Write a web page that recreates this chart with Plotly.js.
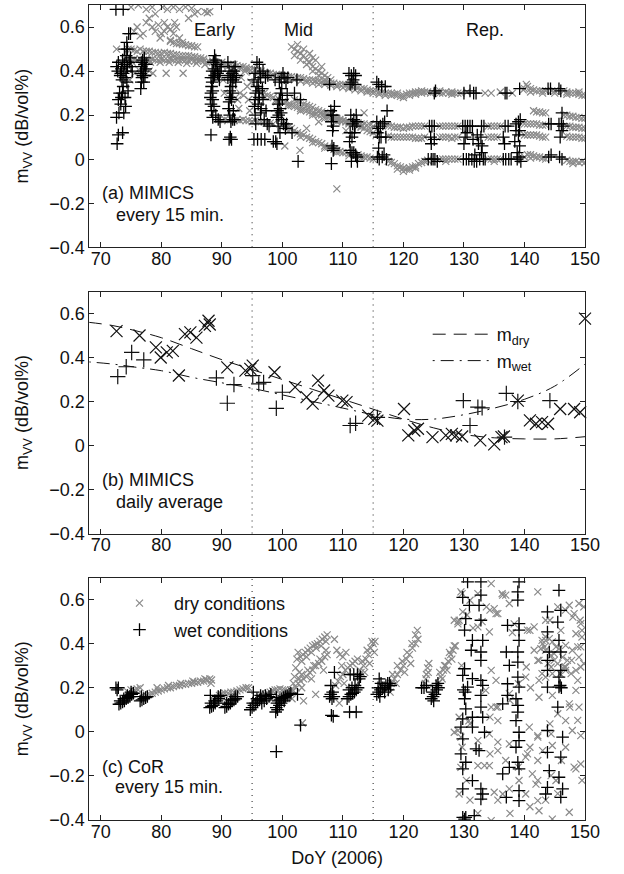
<!DOCTYPE html>
<html>
<head>
<meta charset="utf-8">
<script src="https://cdn.plot.ly/plotly-3.0.1.min.js"></script>
<style>html,body{margin:0;padding:0;background:#fff;}#chart{width:624px;height:874px;}</style>
</head>
<body>
<div id="chart"></div>
<script>
// ---------------- DATA ----------------
const doyTicks = [70, 80, 90, 100, 110, 120, 130, 140, 150];
const mTicks = [-0.4, -0.2, 0, 0.2, 0.4, 0.6];
const phaseBounds = [95, 115];
const phaseNames = ['Early', 'Mid', 'Rep.'];
const phaseLabelDoy = [88.8, 102.6, 133.4];

// Panel (a) MIMICS every 15 min, dry (grey x)
const aDryEarly = [[72.6,0.5],[73.4,0.44],[73.8,0.42],[74.2,0.46],[75.6,0.39],[78.6,0.39],[80.8,0.39],[83.6,0.39],
[74,0.45],[74.5,0.45],[75,0.45],[75.5,0.455],[76,0.45],[76.5,0.455],[77,0.45],[77.5,0.455],[78,0.45],[78.5,0.455],[79,0.45],[79.5,0.45],[80,0.455],[80.5,0.45],[81,0.45],[81.5,0.455],[82,0.45],[82.5,0.45],[83,0.45],[83.5,0.45],[84,0.45],[84.5,0.445],[85,0.45],[85.5,0.445],[86,0.445],[86.5,0.45],[87,0.445],[87.5,0.44],
[75.2,0.44],[76.8,0.44],[78.2,0.44],[79.8,0.44],[81.3,0.44],[82.8,0.44],[84.2,0.435],[85.8,0.435],[87.2,0.43],
[74.5,0.5],[75,0.5],[75.5,0.495],[76,0.49],[76.5,0.5],[77,0.49],[77.5,0.49],[78,0.49],[78.5,0.485],[79,0.485],[79.5,0.48],[80,0.48],[80.5,0.485],[81,0.48],[81.5,0.48],[82,0.475],[82.5,0.475],[83,0.47],[83.5,0.47],[84,0.47],[84.5,0.47],[85,0.465],[85.5,0.465],[86,0.46],[86.5,0.46],[87,0.455],
[81.5,0.535],[82,0.53],[82.5,0.525],[83,0.525],[83.5,0.52],[84,0.52],[84.5,0.515],[85,0.515],[85.5,0.51],[86,0.51],
[75.5,0.58],[76,0.6],[76.5,0.56],[77,0.57],[77.5,0.62],[78,0.64],[78.5,0.6],[79,0.58],[79.5,0.61],[80,0.57],[80.5,0.62],[81,0.6],[81.5,0.59],[82,0.57],[82.5,0.6],[83,0.55],[80.2,0.69],[81,0.68],[82,0.69],[83,0.68],[84,0.69],[85,0.685],[86,0.67],[79,0.66],[77.5,0.68],[78.5,0.69],[75,0.69],[76.2,0.7],[87.2,0.67],[87.6,0.665],[88,0.67],[84.5,0.64],[85.5,0.66],[79.8,0.55],[81.5,0.54],[83.5,0.53],[80.5,0.58],[82.2,0.62],
[76.5,0.4],[77.5,0.42],[78,0.4],[74.8,0.36]];
const aDryMid = [[88,0.44],[88.5,0.445],[89,0.44],[89.5,0.435],[90,0.44],[90.5,0.43],[91,0.43],[91.5,0.43],[92,0.43],[92.5,0.425],[93,0.42],[93.5,0.42],[94,0.415],[94.5,0.41],[95,0.41],[95.5,0.405],[96,0.4],[96.5,0.4],[97,0.395],[97.5,0.39],[98,0.39],[98.5,0.385],[99,0.385],[99.5,0.38],[100,0.38],[100.5,0.38],[101,0.375],[101.5,0.375],[102,0.37],[102.5,0.37],[103,0.37],[103.5,0.365],[104,0.36],[104.5,0.36],[105,0.36],[105.5,0.355],[106,0.355],[106.5,0.35],[107,0.35],[107.5,0.35],[108,0.345],[108.5,0.345],[109,0.34],[109.5,0.34],[110,0.34],[110.5,0.335],[111,0.33],[111.5,0.33],[112,0.33],[112.5,0.325],[113,0.32],[113.5,0.32],[114,0.315],[114.5,0.31],[115,0.31],[115.5,0.31],[116,0.305],[116.5,0.305],[117,0.3],[117.5,0.3],[118,0.3],
[89,0.43],[90,0.425],[91,0.42],[92,0.415],[93,0.41],[94,0.405],[95,0.395],[96,0.39],[97,0.385],[98,0.375],[99,0.37],[100,0.37],[101,0.365],[102,0.36],[103,0.355],[104,0.35],[105,0.345],[106,0.34],[107,0.34],[108,0.335],[109,0.33],[110,0.325],[111,0.32],[112,0.315],[113,0.31],[114,0.305],[115,0.3],[116,0.295],[117,0.29],[118,0.29],
[101.5,0.51],[102,0.5],[102.5,0.49],[103,0.48],[103.5,0.47],[104,0.45],[104.5,0.44],[105,0.42],[105.5,0.41],[106,0.4],[106.5,0.39],[107,0.38],[107.5,0.37],[108,0.36],[102,0.47],[103,0.45],[104,0.43],[105,0.4],[106,0.38],[107,0.36],[103.5,0.5],[104.5,0.48],[105.5,0.45],[102.5,0.52],[106.5,0.42],[105,0.46],
[96,0.31],[96.5,0.3],[97,0.3],[97.5,0.29],[98,0.285],[98.5,0.28],[99,0.27],[99.5,0.27],[100,0.26],[100.5,0.26],[101,0.25],[101.5,0.245],[102,0.24],[102.5,0.235],[103,0.23],[103.5,0.225],[104,0.22],[104.5,0.215],[105,0.21],[105.5,0.205],[106,0.2],[106.5,0.2],[107,0.195],[107.5,0.19],[108,0.185],[108.5,0.185],[109,0.18],[109.5,0.175],[110,0.175],[110.5,0.17],[111,0.17],[112,0.165],[112.5,0.165],[113,0.16],[113.5,0.16],[114,0.155],[114.5,0.155],[115,0.15],
[97,0.285],[99,0.26],[101,0.24],[103,0.22],[105,0.2],[107,0.185],[109,0.17],[111,0.16],[113,0.15],
[102,0.27],[102.5,0.265],[103,0.26],[103.5,0.25],[104,0.245],[104.5,0.24],[105,0.235],[105.5,0.225],[106,0.22],[106.5,0.215],[107,0.21],[107.5,0.205],[108,0.2],[108.5,0.19],[109,0.185],[109.5,0.18],[110,0.175],[110.5,0.17],[111,0.165],[112.5,0.15],[113,0.145],[113.5,0.14],[114,0.13],[114.5,0.125],[115,0.12],
[100,0.16],[100.5,0.15],[101,0.145],[101.5,0.14],[102,0.13],[102.5,0.12],[103,0.115],[103.5,0.11],[104,0.1],[104.5,0.095],[105,0.09],[105.5,0.08],[106,0.075],[106.5,0.07],[107,0.06],[107.5,0.055],[108,0.05],[108.5,0.045],[109,0.04],[109.5,0.035],[110,0.03],[110.5,0.03],[111,0.025],[112.5,0.02],[113,0.015],[113.5,0.01],[114,0.01],[114.5,0.005],[115,0.0],
[101,0.13],[103,0.1],[105,0.075],[107,0.05],[109,0.03],[111,0.015],[113,0.005],
[89.5,0.18],[90,0.175],[90.5,0.18],[91,0.175],[91.5,0.18],[92,0.175],[92.5,0.18],[93,0.175],[93.5,0.18],[94,0.175],[94.5,0.175],[95,0.17],[95.5,0.175],[96,0.17],[96.5,0.17],[97,0.17],[97.5,0.165],[98,0.165],[98.5,0.16],
[90.4,0.3],[92.6,0.27],[93,0.3],[93.6,0.29],[94.2,0.33],[94.8,0.35],[94.4,0.27],[93.2,0.37],[92.8,0.23],[94.6,0.22],[90.2,0.36],[93.8,0.4],
[109,-0.135],[106,0.17],[104,0.14],[110.5,0.13],[113.5,0.21],[102.9,0.04],[100.4,0.06]];
const aDryLate = [[118.5,0.295],[119,0.29],[119.5,0.285],[120,0.29],[120.5,0.295],[121,0.3],[121.5,0.3],[122,0.305],[122.5,0.305],[123,0.3],[123.5,0.305],[124,0.305],[124.5,0.3],[125.5,0.305],[126,0.3],[126.5,0.3],[127,0.305],[127.5,0.3],[128,0.305],[128.5,0.3],[129,0.3],[129.5,0.3],[130.5,0.305],[133.5,0.3],[134.5,0.3],[136,0.305],[138,0.3],[140,0.32],[140.5,0.33],[141,0.32],[141.5,0.315],[142,0.31],[142.5,0.31],[143,0.31],[143.5,0.31],[144.5,0.31],[145,0.31],[146.5,0.31],[147,0.305],[147.5,0.3],[148,0.3],[148.5,0.3],[149,0.295],[149.5,0.29],[150,0.29],
[119,0.3],[120,0.28],[121,0.29],[122,0.295],[123,0.31],[126,0.31],[128,0.295],[141,0.305],[143,0.3],[145,0.3],[147,0.295],[149,0.305],[140.3,0.34],[139.8,0.315],
[141.5,0.22],[142,0.215],[142.5,0.215],[143,0.21],[143.5,0.21],[146.5,0.2],[147,0.2],[147.5,0.195],[148,0.195],[148.5,0.19],[149,0.19],[149.5,0.185],[150,0.185],
[117.5,0.15],[118,0.15],[118.5,0.145],[119,0.145],[119.5,0.145],[120,0.14],[120.5,0.145],[121,0.145],[121.5,0.15],[122,0.15],[122.5,0.15],[123,0.15],[123.5,0.15],[126,0.15],[126.5,0.15],[127,0.15],[127.5,0.15],[128,0.15],[128.5,0.15],[129,0.15],[134,0.15],[134.5,0.15],[135,0.15],[135.5,0.15],[136,0.15],[140,0.16],[140.5,0.16],[141,0.16],[141.5,0.16],[142,0.16],[142.5,0.155],[143,0.155],[143.5,0.155],[147,0.15],[147.5,0.15],[148,0.145],[148.5,0.145],[149,0.145],[149.5,0.14],[150,0.14],
[117.5,0.105],[118,0.1],[118.5,0.1],[119,0.1],[119.5,0.1],[120,0.1],[120.5,0.1],[121,0.1],[121.5,0.1],[122,0.095],[122.5,0.095],[123,0.095],[123.5,0.1],[126,0.1],[126.5,0.1],[127,0.1],[127.5,0.1],[128,0.095],[128.5,0.1],[129,0.1],[134,0.1],[134.5,0.1],[135,0.1],[135.5,0.1],[140,0.11],[140.5,0.11],[141,0.11],[141.5,0.11],[142,0.11],[142.5,0.105],[143,0.1],[143.5,0.1],[147,0.105],[147.5,0.1],[148,0.1],[148.5,0.1],[149,0.1],[149.5,0.095],[150,0.095],
[117.5,-0.01],[118,-0.015],[118.5,-0.02],[119,-0.03],[119.5,-0.035],[120,-0.04],[120.5,-0.045],[121,-0.04],[121.5,-0.035],[122,-0.03],[122.5,-0.02],[123,-0.015],[123.5,-0.01],[124,-0.005],[126,0.0],[126.5,0],[127,0],[127.5,0],[128,0],[128.5,0],[129,0],[134,0],[134.5,0],[135,0],[135.5,0],[136,0],[140,0.01],[140.5,0.02],[141,0.02],[141.5,0.015],[142,0.01],[142.5,0.01],[143,0.005],[143.5,0],[147,-0.005],[147.5,-0.01],[148,-0.01],[148.5,-0.01],[149,-0.015],[149.5,-0.01],[150,-0.015],
[119,-0.045],[120,-0.055],[121,-0.05],[122,-0.04],[127,-0.01],[135,-0.01],[141,0.005],[148,-0.02]];

// Panel (a) wet (black +)
const aWet = [[72.5,0.68],[73.7,0.68],[72.7,0.07],[72.9,0.11],[73.6,0.12],[72.6,0.19],[73.0,0.21],[73.3,0.25],[72.9,0.27],[73.4,0.28],[73.1,0.3],[73.6,0.3],[73.7,0.33],[73.5,0.36],[73.2,0.38],[72.8,0.4],[73.4,0.41],[73.9,0.43],[72.6,0.42],[72.9,0.44],[73.3,0.39],[73.7,0.39],[74.0,0.37],[74.3,0.35],[74.5,0.31],[74.0,0.28],[74.2,0.4],[74.4,0.42],[74.7,0.44],[74.9,0.46],[74.2,0.47],[73.9,0.5],[74.4,0.5],[74.6,0.57],[74.9,0.57],[74.3,0.53],[75.0,0.42],[75.2,0.4],[73.6,0.45],[74.1,0.24],[73.8,0.21],
[76.6,0.32],[76.7,0.35],[76.8,0.37],[77.0,0.4],[77.2,0.43],[76.7,0.42],[77.4,0.41],[77.1,0.35],[76.9,0.45],[77.3,0.38],[76.6,0.39],[77.2,0.46],[76.8,0.44],[77.5,0.43],[77.0,0.38],
[88.2,0.11],[88.5,0.19],[88.3,0.22],[88.2,0.25],[88.1,0.28],[88.2,0.3],[88.3,0.33],[88.4,0.35],[88.6,0.37],[88.8,0.38],[89.0,0.4],[88.7,0.41],[89.2,0.43],[89.0,0.45],[88.8,0.47],[89.3,0.39],[89.5,0.38],[89.7,0.4],[89.4,0.18],[89.7,0.17],[89.0,0.2],[88.7,0.24],[88.5,0.27],[88.5,0.31],[88.2,0.37],[88.4,0.4],[88.6,0.44],[89.6,0.36],[89.9,0.42],
[91.2,0.09],[91.6,0.09],[91.4,0.1],[91.5,0.17],[91.8,0.18],[92.1,0.18],[91.3,0.2],[91.1,0.23],[91.2,0.26],[91.4,0.28],[91.6,0.27],[91.3,0.31],[91.5,0.33],[91.8,0.36],[91.5,0.38],[92.0,0.4],[92.2,0.42],[92.0,0.37],[91.0,0.44],[91.2,0.4],[91.7,0.39],[92.4,0.38],[92.3,0.35],[91.4,0.36],[91.0,0.37],[91.8,0.3],[91.9,0.22],
[95.3,0.09],[95.9,0.09],[96.5,0.09],[97.1,0.09],[95.6,0.16],[95.5,0.2],[95.4,0.24],[95.5,0.27],[95.6,0.3],[95.8,0.33],[96.0,0.35],[96.4,0.37],[96.8,0.4],[97.2,0.37],[95.8,0.44],[96.2,0.28],[96.5,0.23],[97.0,0.18],[97.5,0.16],[96.3,0.39],[96.7,0.32],[97.6,0.38],[96.0,0.25],[96.4,0.21],[96.1,0.31],[95.3,0.36],[95.5,0.39],[96.8,0.27],[97.3,0.22],[97.8,0.15],[96.2,0.43],
[98.5,0.08],[98.9,0.08],[99.1,0.07],[99.3,0.15],[99.1,0.19],[99.2,0.22],[99.3,0.25],[99.5,0.27],[99.7,0.3],[99.9,0.32],[99.8,0.37],[100.3,0.37],[100.6,0.35],[99.9,0.18],[100.2,0.16],[100.5,0.14],[99.6,0.12],[100.8,0.29],[98.8,0.36],[99.4,0.2],[99.6,0.23],[99.8,0.21],[100.0,0.27],[99.5,0.35],[100.1,0.39],[100.9,0.37],[100.7,0.16],
[101.6,0.12],[102.0,0.3],[102.4,0.36],[103.0,0.27],[102.6,-0.01],
[107.8,0.34],[108.0,0.22],[108.2,0.2],[108.1,0.17],[108.4,0.15],[108.3,0.13],[108.2,0.06],[108.5,0.05],[108.4,0.04],[108.1,-0.02],[108.6,0.24],[108.4,0.2],
[111.0,0.39],[111.4,0.38],[111.8,0.39],[112.1,0.38],[111.5,0.35],[111.2,0.34],[112.0,0.34],[111.7,0.36],[111.3,0.2],[111.8,0.18],[112.0,0.15],[111.6,0.16],[112.2,0.2],[111.5,0.1],[111.2,0.04],[111.5,0.03],[111.8,0.03],[112.1,0.02],[112.3,0.01],[111.4,-0.01],[112.4,-0.01],[111.2,0.12],[111.1,0.08],[111.9,0.12],[112.3,0.17],
[115.6,0.35],[115.9,0.34],[116.4,0.33],[117.0,0.33],[115.6,0.17],[115.9,0.14],[116.2,0.15],[116.6,0.16],[116.9,0.17],[117.3,0.22],[115.7,0.12],[116.0,0.1],[116.3,0.1],[117.1,0.1],[115.7,0.01],[116.0,0.0],[116.5,0.01],[117.2,0.0],[116.8,0.02],[115.9,0.05],
[124.3,0.15],[124.7,0.15],[125.1,0.15],[125.3,0.31],[125.1,0.3],[124.5,0.1],[125.1,0.09],[124.6,0.07],[124.1,0.0],[124.6,0.0],[125.2,0.0],[125.6,-0.01],[124.9,0.0],
[130.0,0.3],[131.0,0.31],[131.6,0.3],[132.0,0.3],[129.8,0.15],[130.2,0.15],[130.6,0.15],[131.0,0.15],[131.4,0.15],[132.9,0.15],[133.3,0.15],[130.2,0.1],[131.5,0.09],[132.8,0.1],[130.0,0.07],[133.0,0.06],[132.9,0.03],[129.9,0.0],[130.4,0.0],[130.8,0.0],[131.3,0.0],[131.7,-0.01],[132.1,-0.01],[132.6,0.0],[133.2,0.0],[133.5,0.0],[131.8,0.02],[132.4,0.07],[132.2,0.11],[130.5,0.12],
[136.8,0.3],[137.1,0.3],[139.2,0.32],[136.8,0.15],[137.3,0.15],[138.6,0.16],[139.0,0.17],[139.3,0.18],[136.5,0.1],[136.7,0.07],[138.4,0.08],[139.0,0.11],[138.6,0.13],[139.2,0.06],[138.8,0.03],[136.5,0.0],[136.9,0.0],[137.4,0.0],[137.8,0.0],[138.8,0.0],[139.1,0.01],[139.4,-0.01],[139.2,0.13],
[143.9,0.32],[144.3,0.32],[145.7,0.32],[146.0,0.31],[144.0,0.16],[144.4,0.16],[145.7,0.16],[146.1,0.16],[146.2,0.21],[144.0,0.01],[144.4,0.02],[145.8,0.01],[146.2,0.0],[145.9,0.1],[146.2,0.13],[146.4,0.15]];

// Panel (b) MIMICS daily average
const bDryDoy = [72.6,76.4,79.1,79.9,80.9,81.9,82.9,83.9,84.8,85.8,87.2,87.8,88.0,90.9,93.9,94.7,95.1,98.7,102.1,104.0,105.0,105.9,106.9,107.6,109.9,110.6,114.2,115.2,115.7,120.1,120.8,121.8,122.4,124.8,127.0,128.0,128.7,129.7,132.7,135.0,136.2,136.6,138.9,140.9,141.9,142.9,143.9,145.9,148.2,149.2,150.0];
const bDryM = [0.52,0.50,0.446,0.40,0.423,0.43,0.318,0.506,0.514,0.49,0.544,0.567,0.55,0.355,0.34,0.348,0.363,0.333,0.265,0.22,0.19,0.295,0.25,0.227,0.204,0.197,0.136,0.121,0.113,0.166,0.046,0.068,0.076,0.038,0.046,0.053,0.046,0.041,0.023,0.005,0.038,0.041,0.204,0.114,0.099,0.106,0.099,0.166,0.166,0.151,0.577];
const bWetDoy = [72.8,74.2,75.1,77.1,89.1,90.9,92.0,95.1,96.1,96.9,99.0,100.0,111.2,112.1,115.7,129.9,131.0,132.3,133.0,136.7,137.0,138.9,144.2];
const bWetM = [0.313,0.358,0.423,0.389,0.307,0.192,0.277,0.318,0.28,0.287,0.169,0.242,0.091,0.101,0.128,0.204,0.091,0.174,0.171,0.038,0.237,0.2,0.204];
const fitDoy = [68, 72, 76, 80, 85, 90, 95, 100, 105, 110, 115, 120, 125, 130, 135, 140, 145, 150];
const mDryFit = [0.56, 0.545, 0.52, 0.49, 0.44, 0.39, 0.345, 0.30, 0.255, 0.21, 0.165, 0.12, 0.08, 0.05, 0.035, 0.03, 0.03, 0.04];
const mWetFit = [0.38, 0.37, 0.355, 0.34, 0.31, 0.285, 0.26, 0.23, 0.2, 0.17, 0.14, 0.12, 0.12, 0.14, 0.17, 0.21, 0.27, 0.37];

// Panel (c) CoR every 15 min
const cDry = [[74.5,0.18],[75.0,0.19],[75.6,0.19],[76.0,0.195],[76.5,0.2],[77.5,0.165],[78.0,0.17],[78.5,0.175],[79.0,0.18],[79.5,0.185],[80.0,0.19],[80.5,0.195],[81.0,0.2],[81.5,0.2],[82.0,0.205],[82.5,0.21],[83.0,0.21],[83.5,0.215],[84.0,0.215],[84.5,0.22],[85.0,0.22],[85.5,0.225],[86.0,0.225],[86.5,0.23],[87.0,0.23],[87.5,0.235],[88.0,0.24],[88.3,0.235],[79.3,0.2],[81.2,0.21],[83.2,0.22],[85.2,0.23],[87.2,0.24],[88.2,0.22],
[89.6,0.165],[90.0,0.17],[90.5,0.175],[91.0,0.175],[91.5,0.18],[92.0,0.18],[92.5,0.185],[93.0,0.19],[93.5,0.195],[94.0,0.2],[94.4,0.2],
[97.2,0.17],[97.6,0.175],[98.0,0.18],[98.4,0.185],[98.8,0.19],[99.2,0.19],[99.6,0.195],[100.0,0.19],[100.4,0.19],[101.0,0.18],[101.4,0.19],
[101.7,0.19],[101.8,0.22],[102.0,0.25],[102.2,0.29],[102.4,0.33],[102.6,0.36],[102.3,0.2],[101.6,0.15],[102.8,0.24],[103.2,0.2],[103.3,0.04],[105.5,0.17],[103.5,0.14],
[103.0,0.34],[103.4,0.35],[103.8,0.36],[104.2,0.37],[104.6,0.38],[105.0,0.39],[105.4,0.395],[105.8,0.4],[106.2,0.41],[106.6,0.42],[107.0,0.43],[107.4,0.44],[103.2,0.32],[104.0,0.34],[104.8,0.36],[105.6,0.38],[106.4,0.39],[107.2,0.41],[108.6,0.42],
[102.6,0.22],[103.0,0.23],[103.5,0.24],[104.0,0.25],[104.5,0.27],[105.0,0.28],[105.5,0.3],[106.0,0.31],[106.5,0.32],[107.0,0.34],[107.4,0.35],[103.2,0.26],[104.2,0.28],[105.2,0.3],[106.2,0.33],[107.2,0.37],[102.8,0.27],[104.8,0.24],[106.8,0.28],
[108.8,0.21],[109.2,0.23],[109.6,0.25],[110.0,0.26],[110.4,0.28],[110.8,0.29],[111.2,0.3],[111.6,0.31],[112.0,0.32],[112.4,0.33],[109.0,0.37],[109.5,0.35],[110.0,0.34],[110.5,0.36],[109.8,0.3],[110.2,0.22],[109.4,0.13],[112.8,0.28],
[112.6,0.25],[113.0,0.27],[113.4,0.3],[113.8,0.33],[114.2,0.35],[114.6,0.38],[115.0,0.4],[115.3,0.41],[113.2,0.32],[114.0,0.37],[114.8,0.41],[113.6,0.27],[114.4,0.31],[115.2,0.36],
[117.5,0.2],[118.0,0.22],[118.5,0.24],[119.0,0.26],[119.5,0.28],[120.0,0.3],[120.5,0.33],[121.0,0.35],[121.5,0.38],[122.0,0.4],[122.4,0.42],[118.2,0.26],[119.0,0.3],[119.8,0.32],[120.6,0.36],[121.4,0.4],[122.0,0.44],[122.3,0.46],[118.8,0.22],[120.2,0.27],[121.2,0.31],[117.8,0.18],
[123.6,0.22],[123.8,0.26],[124.0,0.29],[124.2,0.31],[123.7,0.24],[124.1,0.27],
[125.8,0.22],[126.2,0.25],[126.6,0.28],[127.0,0.3],[127.4,0.32],[127.8,0.35],[128.2,0.37],[128.6,0.39],[126.0,0.27],[126.8,0.3],[127.6,0.36],[128.4,0.39],[126.4,0.24],[127.2,0.28],[128.0,0.33],
[129.5,0.635],[134.5,0.672],[136.4,0.62],[137.5,0.582],[142.2,0.635],[135.0,0.559],[129.2,0.506],[135.3,0.536],[134.2,0.453],[132.3,0.476],[129.8,0.544],[140.5,0.461],[143.5,0.506],[147.4,0.574],[149.0,0.582],[148.5,0.445],[149.3,0.491],[141.6,0.37],[143.5,0.37],[146.8,0.392],[147.9,0.37],[149.0,0.339],[142.4,0.324],[144.4,0.294],[146.8,0.294],[149.3,0.294],[140.2,0.248],[134.5,0.279],[135.3,0.233],[133.6,0.188],[137.5,0.173],[142.4,0.157],[144.6,0.165],[147.4,0.127],[149.0,0.112],[134.5,0.112],[135.3,0.112],[129.2,0.066],[135.6,0.051],[140.8,0.021],[128.4,-0.002],[129.5,-0.024],[134.2,-0.009],[142.2,-0.017],[144.4,-0.009],[147.9,0.006],[149.3,-0.017],[135.6,-0.047],[137.5,-0.055],[140.5,-0.1],[144.6,-0.062],[143.0,-0.085],[135.6,-0.085],[132.3,-0.153],[133.4,-0.153],[134.2,-0.153],[140.2,-0.115],[142.2,-0.13],[129.5,-0.161],[148.5,-0.168],[149.3,-0.146],[141.3,-0.191],[144.4,-0.199],[145.2,-0.221],[135.0,-0.274],[136.4,-0.282],[137.5,-0.259],[140.2,-0.282],[142.2,-0.312],[142.4,-0.358],[147.4,-0.365],[134.5,-0.403],[144.6,-0.396],[129.2,-0.282],[141.9,-0.237],[146.8,0.051],[139.1,-0.221],
[143.0,0.4],[143.3,0.385],[143.5,0.415],[144.1,0.423],[144.6,0.408],[145.2,0.385],[144.4,0.347],[144.9,0.324],[145.5,0.309],[146.3,0.339],[147.1,0.324],[147.7,0.264],[148.5,0.279],[148.8,0.233],[149.3,0.385],[149.5,0.43],[142.7,0.377],[145.7,0.377],[146.6,0.294],[144.6,0.264],[143.5,0.248],[142.4,0.233],
[129.0,0.5],[130.5,0.53],[131.5,0.47],[133.0,0.5],[129.6,0.3],[130.8,0.05],[138.0,0.45],[141.0,0.2],[146.0,0.46],[148.0,0.52],
[128.4,0.506],[129.0,0.49],[129.7,0.627],[131.0,0.597],[132.3,0.627],[133.7,0.567],[134.3,0.552],[135.6,0.536],[136.3,0.627],[136.9,0.62],[138.3,0.49],[140.9,0.46],[141.6,0.476],[142.9,0.415],[143.5,0.43],[144.2,0.506],[145.5,0.567],[146.8,0.552],[148.2,0.536],[149.2,0.506],[149.5,0.46],[148.8,0.385],[147.8,0.324],[146.8,0.279],[142.2,0.324],[140.3,0.294],[139.0,0.218],[137.6,0.142],[135.6,0.112],[134.3,0.067],[131.0,0.036],[129.0,0.006],[129.7,-0.07],[132.3,-0.04],[134.3,-0.1],[136.9,-0.13],[139.0,-0.16],[140.9,-0.07],[142.2,-0.024],[144.2,0.036],[145.5,0.082],[147.5,0.112],[148.8,0.052],[146.8,-0.07],[148.2,-0.16],[149.5,-0.22],[145.5,-0.28],[143.5,-0.31],[140.9,-0.34],[137.6,-0.37],[135.6,-0.31],[130.4,-0.22],[131.0,-0.31],[132.3,-0.37],[142.2,-0.22],[146.1,-0.13],[148.5,0.188],[149.8,0.31],[149.8,0.567],[144.9,0.355],[143.9,0.31],[145.9,0.264],[142.9,0.264]];
const cWet = [[72.5,0.2],[72.7,0.19],[72.9,0.2],
[73.0,0.125],[73.3,0.13],[73.6,0.135],[73.9,0.14],[74.2,0.15],[74.5,0.155],[74.8,0.16],[75.1,0.17],[75.4,0.175],[73.2,0.14],[73.8,0.15],[74.4,0.165],[75.0,0.18],
[76.5,0.14],[76.8,0.145],[77.1,0.15],[77.4,0.155],[77.7,0.16],[76.7,0.16],
[88.0,0.11],[88.3,0.115],[88.6,0.12],[88.9,0.13],[89.2,0.14],[89.5,0.15],[88.2,0.13],[88.8,0.14],[89.4,0.16],[88.1,0.165],[89.8,0.165],
[90.5,0.11],[90.8,0.115],[91.1,0.125],[91.4,0.13],[91.7,0.14],[92.0,0.145],[92.3,0.15],[92.6,0.16],[90.8,0.13],[91.5,0.145],[92.2,0.16],
[94.7,0.1],[95.0,0.11],[95.3,0.12],[95.6,0.13],[95.9,0.14],[96.2,0.145],[96.5,0.15],[96.8,0.16],[95.1,0.13],[95.8,0.15],[96.4,0.165],[95.2,0.18],
[96.6,0.13],[97.0,0.14],[97.4,0.15],[97.8,0.16],[98.1,0.17],[97.2,0.165],
[98.9,0.09],[99.0,0.11],[99.1,0.13],[99.3,0.14],[99.6,0.145],[99.9,0.15],[100.2,0.155],[100.5,0.16],[100.8,0.165],[101.1,0.17],[101.4,0.175],[99.2,0.1],[99.5,0.12],[99.8,0.13],[100.3,0.14],[99.0,0.155],[99.0,-0.09],
[102.5,0.17],[103.0,0.03],
[107.8,0.16],[108.0,0.17],[108.3,0.18],[108.5,0.16],[108.2,0.15],[108.4,0.07],[108.1,0.075],[108.6,0.27],[108.0,0.21],
[110.7,0.15],[111.0,0.16],[111.3,0.17],[111.6,0.175],[111.9,0.18],[112.2,0.19],[112.5,0.2],[111.0,0.19],[111.5,0.2],[112.0,0.21],[111.2,0.26],[111.8,0.26],[112.4,0.26],[112.7,0.24],[112.9,0.25],[111.1,0.09],[112.2,0.09],
[115.6,0.17],[115.9,0.18],[116.2,0.19],[116.5,0.2],[116.8,0.2],[117.1,0.21],[117.4,0.22],[117.7,0.22],[115.8,0.2],[116.3,0.22],[116.0,0.24],[116.9,0.18],[117.5,0.19],[117.9,0.21],[116.1,0.16],
[123.0,0.2],[123.4,0.2],[123.8,0.21],
[124.6,0.15],[124.9,0.16],[125.2,0.17],[125.5,0.19],[125.8,0.2],[124.8,0.18],[125.4,0.21],[125.7,0.22],[125.0,0.14],
[130.6,0.68],[132.8,0.68],[139.1,0.68],[129.8,0.61],[132.8,0.62],[138.9,0.635],[138.9,0.597],[145.7,0.642],[130.9,0.574],[132.5,0.574],[130.3,0.513],[132.8,0.506],[137.2,0.483],[139.1,0.491],[139.1,0.461],[130.1,0.461],[131.4,0.415],[133.1,0.415],[139.1,0.415],[131.2,0.37],[132.8,0.362],[137.0,0.362],[138.9,0.362],[144.1,0.362],[146.0,0.362],[132.8,0.324],[138.9,0.316],[137.5,0.301],[130.1,0.286],[143.8,0.324],[129.8,0.256],[131.4,0.241],[132.8,0.233],[138.9,0.248],[145.7,0.248],[130.6,0.203],[133.1,0.211],[137.2,0.218],[139.1,0.203],[143.8,0.203],[145.7,0.203],[130.1,0.15],[132.8,0.165],[137.2,0.165],[138.6,0.15],[138.9,0.12],[130.3,0.104],[132.8,0.112],[136.4,0.127],[138.9,0.089],[145.5,0.112],[129.8,0.059],[131.4,0.066],[133.1,0.066],[138.6,0.051],[129.5,0.021],[131.4,0.021],[133.4,-0.002],[139.1,-0.002],[143.8,0.006],[146.3,-0.024],[129.8,-0.032],[132.0,-0.077],[132.5,-0.085],[139.1,-0.04],[138.6,-0.07],[129.5,-0.1],[130.3,-0.138],[138.9,-0.138],[143.8,-0.093],[146.0,-0.115],[129.8,-0.168],[137.5,-0.161],[136.4,-0.191],[139.1,-0.168],[144.1,-0.176],[145.7,-0.206],[131.4,-0.221],[132.8,-0.259],[129.8,-0.259],[133.1,-0.282],[139.1,-0.267],[143.8,-0.252],[146.3,-0.259],[132.8,-0.305],[137.0,-0.297],[139.1,-0.312],[143.5,-0.282],[146.0,-0.297],[129.8,-0.388],[131.7,-0.38],[143.8,0.544],[146.0,0.551],[145.5,0.498],[143.8,0.453],[145.7,0.415],[143.8,0.279],[146.0,0.279],[130.1,-0.396],[130.3,-0.388],[129.9,0.19],[130.2,0.18],[145.9,0.21],[146.1,0.2]];

// ---------------- BUILD ----------------
const X = a => a.map(p => p[0]);
const Y = a => a.map(p => p[1]);
const GREY = '#8a8a8a';
const dryMk = {symbol: 'x-thin-open', size: 7, color: GREY, line: {width: 1.2, color: GREY}};
const wetMk = {symbol: 'cross-thin-open', size: 9, color: '#000', line: {width: 1.3, color: '#000'}};
const aDryAll = aDryEarly.concat(aDryMid, aDryLate);

const traces = [
  {type: 'scatter', mode: 'markers', x: X(aDryAll), y: Y(aDryAll), xaxis: 'x', yaxis: 'y', marker: dryMk, showlegend: false, hoverinfo: 'skip'},
  {type: 'scatter', mode: 'markers', x: X(aWet), y: Y(aWet), xaxis: 'x', yaxis: 'y', marker: wetMk, showlegend: false, hoverinfo: 'skip'},
  {type: 'scatter', mode: 'lines', x: fitDoy, y: mDryFit, xaxis: 'x2', yaxis: 'y2', name: 'm<sub>dry</sub>', legend: 'legend2',
   line: {color: '#111', width: 1, dash: '13px,8px', shape: 'spline'}, hoverinfo: 'skip'},
  {type: 'scatter', mode: 'lines', x: fitDoy, y: mWetFit, xaxis: 'x2', yaxis: 'y2', name: 'm<sub>wet</sub>', legend: 'legend2',
   line: {color: '#111', width: 1, dash: '2px,6px,13px,6px', shape: 'spline'}, hoverinfo: 'skip'},
  {type: 'scatter', mode: 'markers', x: bDryDoy, y: bDryM, xaxis: 'x2', yaxis: 'y2', showlegend: false, cliponaxis: false,
   marker: {symbol: 'x-thin-open', size: 12, color: '#111', line: {width: 1.2, color: '#111'}}, hoverinfo: 'skip'},
  {type: 'scatter', mode: 'markers', x: bWetDoy, y: bWetM, xaxis: 'x2', yaxis: 'y2', showlegend: false,
   marker: {symbol: 'cross-thin-open', size: 11, color: '#111', line: {width: 1.2, color: '#111'}}, hoverinfo: 'skip'},
  {type: 'scatter', mode: 'markers', x: X(cDry), y: Y(cDry), xaxis: 'x3', yaxis: 'y3', name: 'dry conditions', legend: 'legend', marker: dryMk, hoverinfo: 'skip'},
  {type: 'scatter', mode: 'markers', x: X(cWet), y: Y(cWet), xaxis: 'x3', yaxis: 'y3', name: 'wet conditions', legend: 'legend', marker: wetMk, hoverinfo: 'skip'}
];

const FONT = 'Liberation Sans, Arial, Helvetica, sans-serif';
const xDom = [89.3 / 624, 585 / 624];
function xax(anchor, extra) {
  return Object.assign({domain: xDom, range: [68.1, 150], anchor: anchor, tickvals: doyTicks, ticks: 'inside', ticklen: 5,
    tickcolor: '#222', mirror: 'ticks', showline: true, linecolor: '#222', linewidth: 1, showgrid: false, zeroline: false,
    ticklabelstandoff: -5, tickfont: {size: 18, color: '#111'}}, extra || {});
}
function yax(anchor, dom) {
  return {domain: dom, range: [-0.4, 0.7], anchor: anchor, tickvals: mTicks, ticks: 'inside', ticklen: 5, tickcolor: '#222',
    mirror: 'ticks', showline: true, linecolor: '#222', linewidth: 1, showgrid: false, zeroline: false,
    tickfont: {size: 18, color: '#111'}, title: {text: 'm<sub>VV</sub> (dB/vol%)', font: {size: 18, color: '#111'}, standoff: 15}};
}
const H = 874;
const dom = (top, bot) => [1 - bot / H, 1 - top / H];

const shapes = [];
['x', 'x2', 'x3'].forEach((xr, i) => {
  const yr = ['y', 'y2', 'y3'][i];
  phaseBounds.forEach(d => shapes.push({type: 'line', xref: xr, yref: yr + ' domain', x0: d, x1: d, y0: 0, y1: 1,
    line: {color: '#444', width: 1.2, dash: '1px,5px'}}));
});

const annotations = phaseNames.map((t, i) => ({text: t, x: phaseLabelDoy[i], y: 0.586, xref: 'x', yref: 'y', showarrow: false,
  font: {size: 18, color: '#111'}}));
const panelText = [['(a) MIMICS', 100, 193], ['every 15 min.', 113.6, 215], ['(b) MIMICS', 100, 480], ['daily average', 113.6, 501.7],
  ['(c) CoR', 100, 766.7], ['every 15 min.', 113, 787.3]];
panelText.forEach(p => annotations.push({text: p[0], x: p[1] / 624, y: 1 - p[2] / H, xref: 'paper', yref: 'paper',
  xanchor: 'left', yanchor: 'middle', showarrow: false, font: {size: 18, color: '#111'}}));

const layout = {
  width: 624, height: 874, margin: {l: 0, r: 0, t: 0, b: 0}, paper_bgcolor: '#fff', plot_bgcolor: '#fff',
  font: {family: FONT, size: 18, color: '#111'},
  xaxis: xax('y'), xaxis2: xax('y2'), xaxis3: xax('y3', {title: {text: 'DoY (2006)', font: {size: 18, color: '#111'}, standoff: 10}}),
  yaxis: yax('x', dom(5, 247.3)), yaxis2: yax('x2', dom(291.5, 533.5)), yaxis3: yax('x3', dom(577.5, 820)),
  legend: {x: 105 / 624, y: 1 - 585 / H, xanchor: 'left', yanchor: 'top', bgcolor: 'rgba(0,0,0,0)', borderwidth: 0,
    itemwidth: 59, font: {size: 18, color: '#111'}},
  legend2: {x: 427.7 / 624, y: 1 - 316 / H, xanchor: 'left', yanchor: 'top', bgcolor: 'rgba(0,0,0,0)', borderwidth: 0,
    itemwidth: 59, font: {size: 18, color: '#111'}},
  shapes: shapes, annotations: annotations, hovermode: false
};

Plotly.newPlot('chart', traces, layout, {staticPlot: true, displayModeBar: false});
</script>
</body>
</html>
